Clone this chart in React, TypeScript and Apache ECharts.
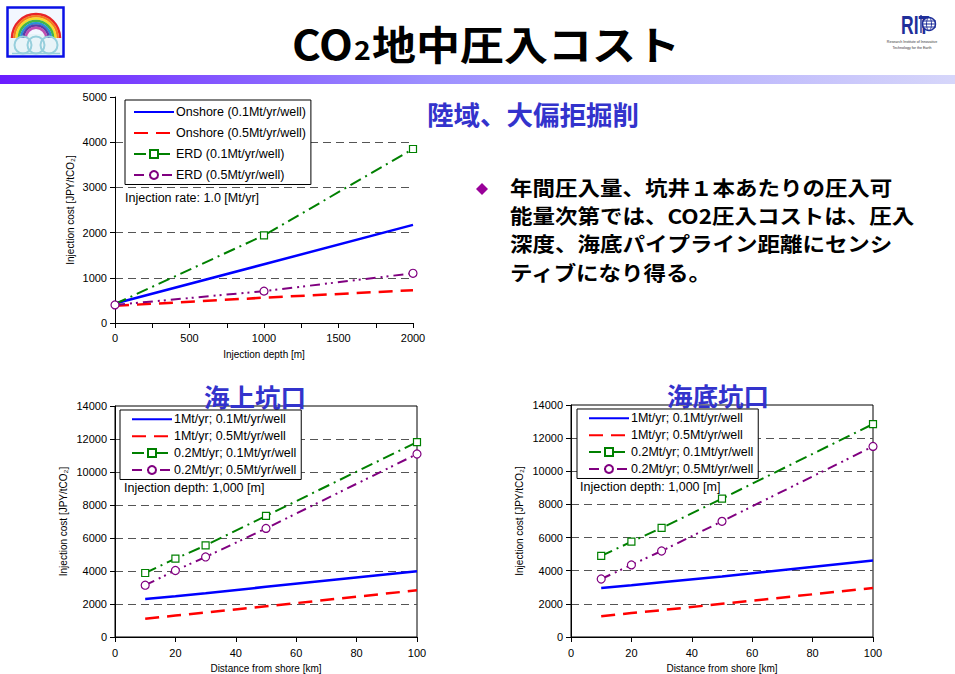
import { useEffect, useRef } from "react";
import * as echarts from "echarts";

// ---- data: injection depth (top chart) ----
const depthNames = [
  "Onshore (0.1Mt/yr/well)",
  "Onshore (0.5Mt/yr/well)",
  "ERD (0.1Mt/yr/well)",
  "ERD (0.5Mt/yr/well)",
];
const depths = [0, 1000, 2000];
const depthOnshore01 = [430, 1300, 2170];
const depthOnshore05 = [380, 560, 725];
const depthErd01 = [420, 1940, 3850];
const depthErd05 = [400, 705, 1100];
const depthTicks = [0, 1000, 2000, 3000, 4000, 5000];

// ---- data: distance from shore (bottom charts) ----
const shoreNames = [
  "1Mt/yr; 0.1Mt/yr/well",
  "1Mt/yr; 0.5Mt/yr/well",
  "0.2Mt/yr; 0.1Mt/yr/well",
  "0.2Mt/yr; 0.5Mt/yr/well",
];
const distances = [10, 20, 30, 50, 100];
// 海上坑口 (offshore platform wellhead)
const platform1Mt01 = [2300, 2470, 2650, 3040, 3980];
const platform1Mt05 = [1100, 1300, 1480, 1860, 2830];
const platform02Mt01 = [3880, 4750, 5550, 7340, 11810];
const platform02Mt05 = [3140, 4030, 4850, 6580, 11090];
// 海底坑口 (subsea wellhead)
const subsea1Mt01 = [2960, 3120, 3300, 3650, 4620];
const subsea1Mt05 = [1250, 1450, 1620, 2000, 2960];
const subsea02Mt01 = [4890, 5750, 6580, 8350, 12850];
const subsea02Mt05 = [3500, 4350, 5190, 6980, 11500];

// ---- texts ----
const pageTitle = "地中圧入コスト";
const onshoreHeading = "陸域、大偏拒掘削";
const platformHeading = "海上坑口";
const subseaHeading = "海底坑口";
const bulletLines = [
  "年間圧入量、坑井１本あたりの圧入可",
  "能量次第では、CO2圧入コストは、圧入",
  "深度、海底パイプライン距離にセンシ",
  "ティブになり得る。",
];
const rateNote = "Injection rate: 1.0 [Mt/yr]";
const depthNote = "Injection depth: 1,000 [m]";

const SANS = "'Liberation Sans', Arial, sans-serif";
const CJK = "'Noto Sans CJK JP', sans-serif";

const styles = [
  { line: { color: "#0000ff", width: 2.5, type: "solid" }, symbol: "none" },
  { line: { color: "#ff0000", width: 2.5, type: [14, 8] }, symbol: "none" },
  { line: { color: "#008000", width: 2, type: [12, 5, 2, 5] }, symbol: "rect", size: 7 },
  { line: { color: "#800080", width: 2, type: [10, 5, 2, 4, 2, 5] }, symbol: "circle", size: 8 },
];

function makeSeries(
  name: string,
  idx: number,
  xs: number[],
  ys: number[],
  axis: number,
  hideSymbolAt: number[] = []
) {
  const st = styles[idx];
  const hasSymbol = st.symbol !== "none";
  return {
    type: "line",
    name,
    xAxisIndex: axis,
    yAxisIndex: axis,
    data: xs.map((x, i) =>
      hideSymbolAt.includes(i) ? { value: [x, ys[i]], symbol: "none" } : [x, ys[i]]
    ),
    symbol: st.symbol,
    symbolSize: st.size || 0,
    showSymbol: hasSymbol,
    lineStyle: { ...st.line },
    itemStyle: hasSymbol
      ? { color: "#ffffff", borderColor: st.line.color, borderWidth: 1.2 }
      : { color: st.line.color },
    color: st.line.color,
    z: 3,
    silent: true,
  };
}

const axisLabel = { color: "#000", fontSize: 11, fontFamily: SANS, formatter: (v: number) => String(v) };
const axisLine = { show: true, onZero: false, lineStyle: { color: "#000", width: 1 } };
const tick = { show: true, length: 5, lineStyle: { color: "#000" } };
const dashedSplit = {
  show: true,
  showMaxLine: false,
  showMinLine: false,
  lineStyle: { color: "#555", width: 1, type: [8, 5] },
};

function legendBox(names: string[], left: number, top: number, gap: number, padding: number[]) {
  return {
    orient: "vertical",
    left,
    top,
    // plain-line series get no marker in their legend icon
    data: names.map((n, i) => (styles[i].symbol === "none" ? { name: n, itemStyle: { opacity: 0 } } : n)),
    itemWidth: 40,
    itemHeight: 10,
    itemGap: gap,
    padding,
    backgroundColor: "#ffffff",
    borderColor: "#000",
    borderWidth: 1,
    borderRadius: 0,
    selectedMode: false,
    textStyle: { color: "#000", fontSize: 12.5, fontFamily: SANS, padding: [0, 0, 0, -3] },
    z: 5,
  };
}

function text(x: number, y: number, t: string, font: string, fill: string, extra: any = {}) {
  return {
    type: "text",
    x,
    y,
    silent: true,
    style: { text: t, font, fill, verticalAlign: "middle", align: "left", ...extra },
  };
}

function logoLeft() {
  const rainbow = ["#e8242a", "#f47c20", "#f5dd2a", "#43b649", "#2a8fd6", "#5a3ea8", "#c04fb0"];
  const children: any[] = [
    { type: "rect", shape: { x: 7.5, y: 7.5, width: 56, height: 49 }, style: { fill: "#f3f7ff", stroke: "#0a10e6", lineWidth: 2.5 } },
    { type: "rect", shape: { x: 9, y: 34, width: 53, height: 21 }, style: { fill: "#e8f4f8" } },
  ];
  rainbow.forEach((c, i) => {
    children.push({
      type: "arc",
      shape: { cx: 36, cy: 38, r: 24 - i * 2.3, startAngle: Math.PI, endAngle: Math.PI * 2, clockwise: true },
      style: { stroke: c, lineWidth: 2.5, fill: null },
    });
  });
  [23, 36, 49].forEach((cx) => {
    children.push({
      type: "ellipse",
      shape: { cx, cy: 45, rx: 8.5, ry: 8.5 },
      style: { stroke: "#96cfdc", lineWidth: 2, fill: null },
    });
  });
  children.push({ type: "line", shape: { x1: 12, y1: 53.5, x2: 60, y2: 53.5 }, style: { stroke: "#96cfdc", lineWidth: 1.5 } });
  return { type: "group", silent: true, children };
}

function logoRight() {
  const blue = "#1f2f9a";
  return {
    type: "group",
    silent: true,
    children: [
      { type: "text", x: 901, y: 13, scaleX: 0.7, style: { text: "RIT", font: "bold 25px " + SANS, fill: blue } },
      { type: "circle", shape: { cx: 929, cy: 24, r: 6.5 }, style: { stroke: blue, lineWidth: 1.4, fill: "#fff" } },
      { type: "line", shape: { x1: 922, y1: 21, x2: 936, y2: 21 }, style: { stroke: blue, lineWidth: 1 } },
      { type: "line", shape: { x1: 922, y1: 24, x2: 936, y2: 24 }, style: { stroke: blue, lineWidth: 1 } },
      { type: "line", shape: { x1: 922, y1: 27, x2: 936, y2: 27 }, style: { stroke: blue, lineWidth: 1 } },
      { type: "ellipse", shape: { cx: 929, cy: 24, rx: 2.5, ry: 6.5 }, style: { stroke: blue, lineWidth: 1, fill: null } },
      { type: "line", shape: { x1: 921, y1: 15, x2: 921, y2: 33 }, style: { stroke: blue, lineWidth: 1.4 } },
      { type: "text", x: 912, y: 42, style: { text: "Research Institute of Innovative", font: "3.6px " + SANS, fill: "#333", align: "center", verticalAlign: "middle" } },
      { type: "text", x: 912, y: 48, style: { text: "Technology for the Earth", font: "3.6px " + SANS, fill: "#333", align: "center", verticalAlign: "middle" } },
    ],
  };
}

export default function App() {
  const ref = useRef<HTMLDivElement>(null);

  useEffect(() => {
    if (!ref.current) return;
    const chart = echarts.init(ref.current, undefined, { renderer: "svg" });

    const bar = new echarts.graphic.LinearGradient(0, 0, 1, 0, [
      { offset: 0, color: "#6a1cff" },
      { offset: 0.45, color: "#9d90ff" },
      { offset: 1, color: "#d6d6fa" },
    ]);

    const bulletLineGap = 28.2;

    const graphic: any[] = [
      { type: "rect", shape: { x: 0, y: 75, width: 955, height: 9 }, style: { fill: bar }, silent: true },
      logoLeft(),
      logoRight(),
      {
        type: "text",
        x: 486,
        y: 42,
        scaleX: 1.1,
        silent: true,
        style: {
          text: "{a|CO}{b|2}{a|" + pageTitle + "}",
          align: "center",
          verticalAlign: "middle",
          rich: {
            a: { font: "bold 40px " + CJK, fill: "#000" },
            b: { font: "bold 26px " + CJK, fill: "#000", verticalAlign: "bottom", padding: [12, 1, 0, 1] },
          },
        },
      },
      text(427, 113, onshoreHeading, "bold 26.5px " + CJK, "#3333cc"),
      text(255, 395, platformHeading, "bold 25.5px " + CJK, "#3333cc", { align: "center" }),
      text(718, 394, subseaHeading, "bold 25.5px " + CJK, "#3333cc", { align: "center" }),
      {
        type: "polygon",
        silent: true,
        shape: { points: [[482, 183], [488, 189], [482, 195], [476, 189]] },
        style: { fill: "#990099" },
      },
      ...bulletLines.map((l, i) => ({
        ...text(510, 187 + i * bulletLineGap, l, "bold 19.4px " + CJK, "#000"),
        scaleX: 1.16,
        scaleY: 1.04,
      })),
      { ...text(125, 198, rateNote, "12.5px " + SANS, "#000"), z: 10 },
      { ...text(124, 488, depthNote, "12.5px " + SANS, "#000"), z: 10 },
      { ...text(580, 487, depthNote, "12.5px " + SANS, "#000"), z: 10 },
    ];

    const option: any = {
      animation: false,
      backgroundColor: "#ffffff",
      textStyle: { fontFamily: SANS },
      graphic,
      legend: [
        legendBox(depthNames, 125, 100, 8, [5.5, 5, 3, 8]),
        legendBox(shoreNames, 120, 410, 3.9, [2.8, 5, 3, 11]),
        legendBox(shoreNames, 577, 409, 3.9, [2.8, 5, 3, 11]),
      ],
      grid: [
        { left: 115, top: 97, width: 298, height: 226, show: false },
        { left: 115, top: 406, width: 302, height: 232, show: true, borderColor: "#000", borderWidth: 1, backgroundColor: "transparent" },
        { left: 571, top: 405, width: 302, height: 232, show: true, borderColor: "#000", borderWidth: 1, backgroundColor: "transparent" },
      ],
      xAxis: [
        {
          gridIndex: 0,
          type: "value",
          min: 0,
          max: 2000,
          interval: 500,
          name: "Injection depth [m]",
          nameLocation: "middle",
          nameGap: 26,
          nameTextStyle: { color: "#000", fontSize: 10, fontFamily: SANS },
          axisLine,
          axisTick: tick,
          minorTick: { show: true, splitNumber: 2, length: 5, lineStyle: { color: "#000" } },
          axisLabel: { ...axisLabel, margin: 9 },
          splitLine: { show: false },
        },
        ...[1, 2].map((g) => ({
          gridIndex: g,
          type: "value",
          min: 0,
          max: 100,
          interval: 20,
          name: "Distance from shore [km]",
          nameLocation: "middle",
          nameGap: 26,
          nameTextStyle: { color: "#000", fontSize: 10, fontFamily: SANS },
          axisLine,
          axisTick: tick,
          axisLabel: { ...axisLabel, margin: 10 },
          splitLine: { show: false },
        })),
      ],
      yAxis: [
        {
          gridIndex: 0,
          type: "value",
          min: depthTicks[0],
          max: depthTicks[depthTicks.length - 1],
          interval: 1000,
          name: "Injection cost [JPY/tCO₂]",
          nameLocation: "middle",
          nameGap: 40,
          nameTextStyle: { color: "#000", fontSize: 10, fontFamily: SANS },
          axisLine,
          axisTick: tick,
          axisLabel: { ...axisLabel, margin: 8 },
          splitLine: dashedSplit,
        },
        ...[1, 2].map((g) => ({
          gridIndex: g,
          type: "value",
          min: 0,
          max: 14000,
          interval: 2000,
          name: "Injection cost [JPY/tCO₂]",
          nameLocation: "middle",
          nameGap: 47,
          nameTextStyle: { color: "#000", fontSize: 10, fontFamily: SANS },
          axisLine,
          axisTick: tick,
          axisLabel: { ...axisLabel, margin: 8 },
          splitLine: dashedSplit,
        })),
      ],
      series: [
        makeSeries(depthNames[0], 0, depths, depthOnshore01, 0),
        makeSeries(depthNames[1], 1, depths, depthOnshore05, 0),
        makeSeries(depthNames[2], 2, depths, depthErd01, 0, [0]),
        makeSeries(depthNames[3], 3, depths, depthErd05, 0),
        makeSeries(shoreNames[0], 0, distances, platform1Mt01, 1),
        makeSeries(shoreNames[1], 1, distances, platform1Mt05, 1),
        makeSeries(shoreNames[2], 2, distances, platform02Mt01, 1),
        makeSeries(shoreNames[3], 3, distances, platform02Mt05, 1),
        makeSeries(shoreNames[0], 0, distances, subsea1Mt01, 2),
        makeSeries(shoreNames[1], 1, distances, subsea1Mt05, 2),
        makeSeries(shoreNames[2], 2, distances, subsea02Mt01, 2),
        makeSeries(shoreNames[3], 3, distances, subsea02Mt05, 2),
      ],
    };

    chart.setOption(option);
    return () => chart.dispose();
  }, []);

  return (
    <div
      ref={ref}
      style={{ position: "fixed", left: 0, top: 0, width: 955, height: 674, background: "#fff" }}
    />
  );
}
